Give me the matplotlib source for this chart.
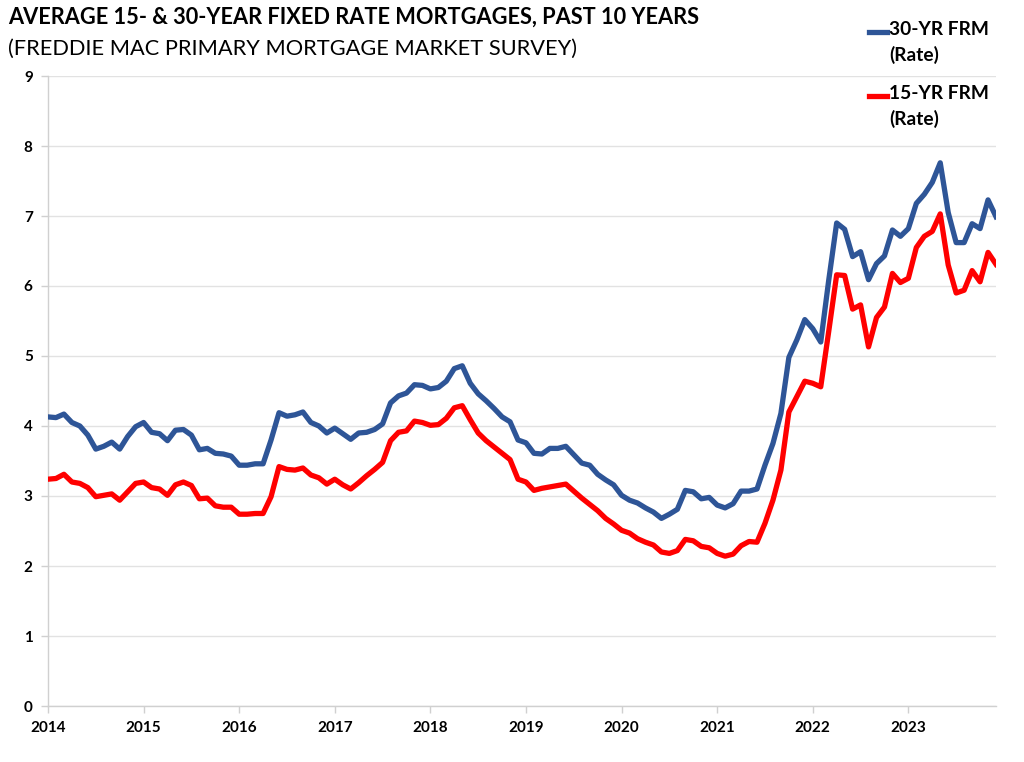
import numpy as np
import matplotlib
matplotlib.use("Agg")
import matplotlib.pyplot as plt
from matplotlib.lines import Line2D

# monthly averages, 120 months
rate_30yr = [4.13, 4.12, 4.17, 4.05, 4.00, 3.87, 3.67, 3.71, 3.77, 3.67, 3.85, 3.99,
             4.05, 3.91, 3.89, 3.79, 3.94, 3.95, 3.87, 3.66, 3.68, 3.61, 3.60, 3.57,
             3.44, 3.44, 3.46, 3.46, 3.80, 4.19, 4.14, 4.16, 4.20, 4.05, 4.00, 3.90,
             3.97, 3.89, 3.81, 3.90, 3.91, 3.95, 4.03, 4.33, 4.43, 4.47, 4.59, 4.58,
             4.53, 4.55, 4.64, 4.82, 4.86, 4.61, 4.46, 4.36, 4.25, 4.13, 4.06, 3.80,
             3.76, 3.61, 3.60, 3.68, 3.68, 3.71, 3.59, 3.47, 3.44, 3.31, 3.23, 3.16,
             3.01, 2.94, 2.90, 2.83, 2.77, 2.68, 2.74, 2.81, 3.08, 3.06, 2.96, 2.98,
             2.87, 2.83, 2.89, 3.07, 3.07, 3.10, 3.44, 3.75, 4.18, 4.98, 5.23, 5.52,
             5.39, 5.20, 6.08, 6.90, 6.81, 6.42, 6.49, 6.09, 6.32, 6.43, 6.80, 6.71,
             6.82, 7.18, 7.31, 7.48, 7.76, 7.05, 6.62, 6.62, 6.89, 6.82, 7.23, 6.99]

rate_15yr = [3.24, 3.25, 3.31, 3.20, 3.18, 3.12, 2.99, 3.01, 3.03, 2.94, 3.06, 3.18,
             3.20, 3.12, 3.10, 3.01, 3.16, 3.20, 3.15, 2.96, 2.97, 2.86, 2.84, 2.84,
             2.74, 2.74, 2.75, 2.75, 2.99, 3.42, 3.38, 3.37, 3.40, 3.30, 3.26, 3.17,
             3.24, 3.16, 3.10, 3.19, 3.29, 3.38, 3.48, 3.79, 3.91, 3.93, 4.07, 4.05,
             4.01, 4.02, 4.11, 4.26, 4.29, 4.09, 3.90, 3.79, 3.70, 3.61, 3.52, 3.24,
             3.20, 3.08, 3.11, 3.13, 3.15, 3.17, 3.07, 2.97, 2.88, 2.79, 2.68, 2.60,
             2.51, 2.47, 2.39, 2.34, 2.30, 2.20, 2.18, 2.22, 2.38, 2.36, 2.28, 2.26,
             2.18, 2.14, 2.17, 2.29, 2.35, 2.34, 2.61, 2.94, 3.37, 4.20, 4.42, 4.64,
             4.61, 4.56, 5.35, 6.16, 6.15, 5.67, 5.73, 5.13, 5.55, 5.70, 6.18, 6.05,
             6.11, 6.55, 6.71, 6.78, 7.03, 6.30, 5.90, 5.94, 6.22, 6.06, 6.48, 6.31]

years = list(range(2014, 2024))
months = 2014 + np.arange(len(rate_30yr)) / 12.0

blue = "#2E5597"
red = "#FF0000"
font = "Lato"

fig = plt.figure(figsize=(10.24, 7.62), dpi=100)
ax = fig.add_axes([48 / 1024, 1 - 706 / 762, (996 - 48) / 1024, (706 - 76) / 762])

ax.plot(months, rate_30yr, color=blue, lw=3.8, solid_joinstyle="round", zorder=3)
ax.plot(months, rate_15yr, color=red, lw=3.8, solid_joinstyle="round", zorder=3)

ax.set_xlim(months[0], months[-1])
ax.set_ylim(0, 9)
ax.set_yticks(range(0, 10))
ax.set_xticks(years)
ax.set_xticklabels([str(y) for y in years])
ax.grid(axis="y", color="#e2e2e2", lw=1)
ax.set_axisbelow(True)
for s in ["top", "right"]:
    ax.spines[s].set_visible(False)
for s in ["left", "bottom"]:
    ax.spines[s].set_color("#d0d0d0")
    ax.spines[s].set_linewidth(1)
ax.tick_params(axis="both", color="#d0d0d0", length=5, width=1)
ax.tick_params(axis="y", pad=6)
ax.tick_params(axis="x", pad=6)
for lab in ax.get_xticklabels() + ax.get_yticklabels():
    lab.set_fontfamily(font)
    lab.set_fontweight("bold")
    lab.set_fontsize(11)

fig.text(0.008, 0.977, "AVERAGE 15- & 30-YEAR FIXED RATE MORTGAGES, PAST 10 YEARS",
         fontsize=15.7, fontweight="bold", family=font, va="center", ha="left")
fig.text(0.008, 0.936, "(FREDDIE MAC PRIMARY MORTGAGE MARKET SURVEY)",
         fontsize=15.7, family=font, va="center", ha="left")

# legend, drawn by hand so the key sits at the first text line
legend_items = [("30-YR FRM\n(Rate)", blue, 32), ("15-YR FRM\n(Rate)", red, 96)]
for label, col, ypix in legend_items:
    yf = 1 - ypix / 762
    fig.add_artist(Line2D([869 / 1024, 887 / 1024], [yf, yf], color=col, lw=3.8,
                          transform=fig.transFigure))
    fig.text(889 / 1024, yf + 0.014, label, fontsize=13.8, fontweight="bold", family=font,
             va="top", ha="left", linespacing=1.5)

fig.savefig("out.png", dpi=100)
